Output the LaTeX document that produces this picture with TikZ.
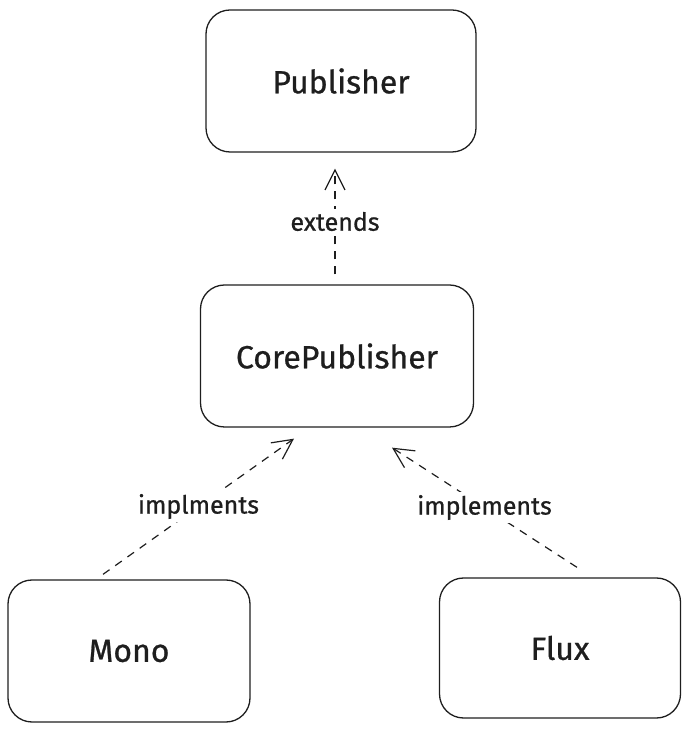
\documentclass[tikz,border=0pt]{standalone}
\usepackage{fontspec}
\setmainfont{Fira Sans}
\newfontfamily\hand{Fira Sans}[FakeBold=0.8]
\usetikzlibrary{arrows.meta}
\definecolor{ink}{HTML}{1E1E1E}
\begin{document}
\begin{tikzpicture}[x=1pt,y=1pt,
  box/.style={draw=ink, line width=1.3pt, rounded corners=24pt, inner sep=0pt, font=\hand\fontsize{32}{36}\selectfont, text=ink},
  conn/.style={draw=ink, line width=1.2pt, dash pattern=on 8pt off 7pt, -{Straight Barb[length=20pt,width=20pt,line width=1.2pt]}},
  lbl/.style={fill=white, inner sep=3pt, font=\hand\fontsize{25}{28}\selectfont, text=ink}]
\useasboundingbox (0,0) rectangle (690,731);
\node[box, minimum width=270pt, minimum height=142pt] (pub) at (341,650) {Publisher};
\node[box, minimum width=273pt, minimum height=142pt] (core) at (337,375) {CorePublisher};
\node[box, minimum width=242pt, minimum height=142pt] (mono) at (129,80) {Mono};
\node[box, minimum width=241pt, minimum height=140pt] (flux) at (560,83) {Flux};
\draw[conn] ([xshift=-2pt,yshift=10pt]core.north) -- node[lbl]{extends} ([xshift=-6pt,yshift=-16pt]pub.south);
\draw[conn] ([xshift=-26pt,yshift=5pt]mono.north) -- node[lbl]{implments} ([xshift=-43pt,yshift=-11pt]core.south);
\draw[conn] ([xshift=17pt,yshift=10pt]flux.north) -- node[lbl]{implements} ([xshift=55pt,yshift=-20pt]core.south);
\end{tikzpicture}
\end{document}
